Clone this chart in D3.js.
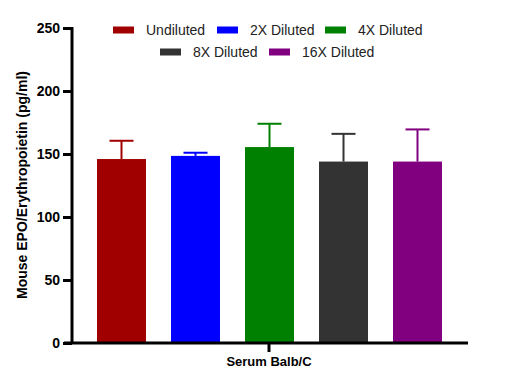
<!DOCTYPE html>
<html><head><meta charset="utf-8">
<script src="https://cdn.jsdelivr.net/npm/d3@7"></script>
<style>body{margin:0;background:#fff;} text{font-family:"Liberation Sans",Arial,sans-serif;}</style>
</head><body><svg id="c" width="512" height="389"></svg>
<script>
const categories = ["Undiluted","2X Diluted","4X Diluted","8X Diluted","16X Diluted"];
const values = [146, 148.5, 155.5, 144, 144];
const errors = [14.5, 2.5, 18.5, 22, 25.5];
const colors = ["#a00000","#0000ff","#008000","#333333","#800080"];
const yTicks = [0,50,100,150,200,250];
const groupLabel = "Serum Balb/C";
const yLabel = "Mouse EPO/Erythropoietin (pg/ml)";

const svg = d3.select("#c");
const y = d3.scaleLinear().domain([0,250]).range([343,28]);
const x = d3.scaleBand().domain(categories).range([97,442]).paddingInner(0.338).paddingOuter(0.0);

const g = svg.append("g");
// bars
g.selectAll("rect.bar").data(categories).enter().append("rect")
  .attr("x", d=>x(d)).attr("width", x.bandwidth())
  .attr("y", (d,i)=>y(values[i])).attr("height",(d,i)=>y(0)-y(values[i]))
  .attr("fill",(d,i)=>colors[i]);
// error bars
categories.forEach((d,i)=>{
  const cx = x(d)+x.bandwidth()/2;
  g.append("line").attr("x1",cx).attr("x2",cx).attr("y1",y(values[i])).attr("y2",y(values[i]+errors[i]))
    .attr("stroke",colors[i]).attr("stroke-width",2);
  g.append("line").attr("x1",cx-12).attr("x2",cx+12).attr("y1",y(values[i]+errors[i])).attr("y2",y(values[i]+errors[i]))
    .attr("stroke",colors[i]).attr("stroke-width",2);
});
// y axis
const ya = svg.append("g").attr("transform","translate(72,0)")
  .call(d3.axisLeft(y).tickValues(yTicks).tickSize(9).tickPadding(3));
ya.select(".domain").attr("stroke","#000").attr("stroke-width",3).attr("d","M0,"+(y(250)-1)+"V"+(y(0)+1));
ya.selectAll(".tick line").attr("stroke","#000").attr("stroke-width",3);
ya.selectAll(".tick text").attr("font-size",14).attr("font-weight","bold").attr("fill","#000")
  .attr("font-family","'Liberation Sans',Arial,sans-serif");
// x axis
svg.append("line").attr("x1",64).attr("x2",468).attr("y1",y(0)).attr("y2",y(0)).attr("stroke","#000").attr("stroke-width",3);
svg.append("line").attr("x1",269).attr("x2",269).attr("y1",y(0)).attr("y2",y(0)+9).attr("stroke","#000").attr("stroke-width",3);
svg.append("text").attr("x",269).attr("y",366).attr("text-anchor","middle").attr("font-size",13).attr("font-weight","bold").text(groupLabel);
svg.append("text").attr("transform","translate(27,185) rotate(-90)").attr("text-anchor","middle")
  .attr("font-size",14).attr("font-weight","bold").text(yLabel);
// legend
const legendPos = [[113,30],[217,30],[325,30],[160,52],[269,52]];
categories.forEach((d,i)=>{
  const [lx,ly] = legendPos[i];
  svg.append("rect").attr("x",lx).attr("y",ly-3.5).attr("width",21).attr("height",7).attr("fill",colors[i]);
  svg.append("text").attr("x",lx+33).attr("y",ly+5).attr("font-size",14).attr("fill","#222").text(d);
});
</script></body></html>
